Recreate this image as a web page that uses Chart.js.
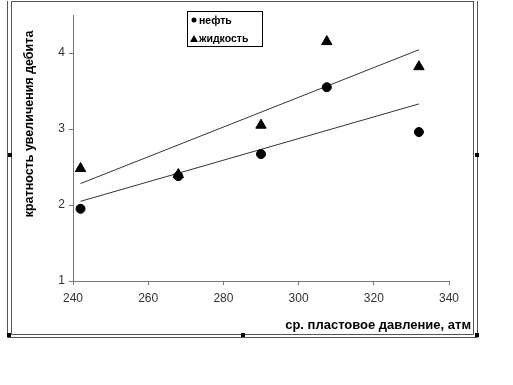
<!DOCTYPE html>
<html>
<head>
<meta charset="utf-8">
<script src="https://cdn.jsdelivr.net/npm/chart.js@4.4.1/dist/chart.umd.min.js"></script>
<style>
  html, body { margin: 0; padding: 0; background: #fff; }
  #wrap { width: 513px; height: 385px; }
</style>
</head>
<body>
<div id="wrap"><canvas id="c" width="513" height="385"></canvas></div>
<script>
// данные с графика
const pressure = [242, 268, 290, 307.5, 332];
const oilRatio = [1.95, 2.38, 2.67, 3.55, 2.96];
const liquidRatio = [2.48, 2.40, 3.05, 4.15, 3.82];
const xTicks = [240, 260, 280, 300, 320, 340];
const yTicks = [1, 2, 3, 4];
const seriesNames = ['нефть', 'жидкость'];
const xTitle = 'ср. пластовое давление, атм';
const yTitle = 'кратность увеличения дебита';

// линейный тренд (как в Excel)
function trend(xs, ys) {
    const n = xs.length;
    const mx = xs.reduce((a, b) => a + b, 0) / n;
    const my = ys.reduce((a, b) => a + b, 0) / n;
    let sxy = 0, sxx = 0;
    for (let i = 0; i < n; i++) {
        sxy += (xs[i] - mx) * (ys[i] - my);
        sxx += (xs[i] - mx) * (xs[i] - mx);
    }
    const k = sxy / sxx;
    const x0 = Math.min(...xs), x1 = Math.max(...xs);
    return [{ x: x0, y: my + k * (x0 - mx) }, { x: x1, y: my + k * (x1 - mx) }];
}

const pts = (xs, ys) => xs.map((x, i) => ({ x: x, y: ys[i] }));

// рамка, подписи осей и легенда
const decor = {
    id: 'decor',
    afterDraw(chart) {
        const ctx = chart.ctx;
        ctx.save();
        ctx.strokeStyle = '#555';
        ctx.lineWidth = 1;
        ctx.beginPath();
        ctx.moveTo(7.5, 1); ctx.lineTo(7.5, 337.5);
        ctx.moveTo(11.5, 1.5); ctx.lineTo(11.5, 334.5);
        ctx.moveTo(11.5, 1.5); ctx.lineTo(474.5, 1.5);
        ctx.moveTo(473.5, 1.5); ctx.lineTo(473.5, 334.5);
        ctx.moveTo(477.5, 1); ctx.lineTo(477.5, 337.5);
        ctx.moveTo(11.5, 334.5); ctx.lineTo(473.5, 334.5);
        ctx.moveTo(7.5, 337.5); ctx.lineTo(477.5, 337.5);
        ctx.stroke();
        ctx.fillStyle = '#000';
        [[9, 335], [243, 335], [477, 335], [10, 155], [477, 155]].forEach(p => {
            ctx.fillRect(p[0] - 2, p[1] - 2, 4, 4);
        });

        // подписи осей
        ctx.fillStyle = '#000';
        ctx.font = 'bold 13px "Liberation Sans", Arial, sans-serif';
        ctx.textAlign = 'right';
        ctx.textBaseline = 'middle';
        ctx.fillText(xTitle, 471, 325);
        ctx.save();
        ctx.translate(30, 124);
        ctx.rotate(-Math.PI / 2);
        ctx.textAlign = 'center';
        ctx.font = 'bold 12.5px "Liberation Sans", Arial, sans-serif';
        ctx.fillText(yTitle, 0, 0);
        ctx.restore();

        // легенда
        ctx.strokeStyle = '#000';
        ctx.strokeRect(187.5, 11.5, 75, 35);
        ctx.font = 'bold 10.5px "Liberation Sans", Arial, sans-serif';
        ctx.textAlign = 'left';
        ctx.fillText(seriesNames[0], 199, 21);
        ctx.fillText(seriesNames[1], 199, 39);
        ctx.beginPath();
        ctx.arc(194, 20, 2.5, 0, Math.PI * 2);
        ctx.fill();
        ctx.beginPath();
        ctx.moveTo(194, 35); ctx.lineTo(198, 42); ctx.lineTo(190, 42);
        ctx.closePath();
        ctx.fill();
        ctx.restore();
    }
};

new Chart(document.getElementById('c'), {
    type: 'scatter',
    data: {
        datasets: [
            {
                label: seriesNames[0],
                data: pts(pressure, oilRatio),
                pointStyle: 'circle',
                pointRadius: 4.5,
                backgroundColor: '#000',
                borderColor: '#000'
            },
            {
                label: seriesNames[1],
                data: pts(pressure, liquidRatio),
                pointStyle: 'triangle',
                pointRadius: 6,
                backgroundColor: '#000',
                borderColor: '#000'
            },
            {
                type: 'line',
                data: trend(pressure, oilRatio),
                borderColor: '#333',
                borderWidth: 1,
                pointRadius: 0,
                fill: false
            },
            {
                type: 'line',
                data: trend(pressure, liquidRatio),
                borderColor: '#333',
                borderWidth: 1,
                pointRadius: 0,
                fill: false
            }
        ]
    },
    options: {
        responsive: false,
        animation: false,
        layout: { padding: { left: 0, top: 15, right: 64, bottom: 74 } },
        plugins: { legend: { display: false }, tooltip: { enabled: false } },
        scales: {
            x: {
                type: 'linear',
                min: 240,
                max: 340,
                afterFit: s => { s.height = 30; },
                afterBuildTicks: s => { s.ticks = xTicks.map(v => ({ value: v })); },
                grid: { display: true, drawOnChartArea: false, tickLength: 4, color: '#777' },
                border: { color: '#777' },
                ticks: {
                    color: '#333',
                    padding: 6,
                    font: { family: '"Liberation Sans", Arial, sans-serif', size: 12 }
                }
            },
            y: {
                min: 1,
                max: 4.5,
                afterFit: s => { s.width = 73; },
                afterBuildTicks: s => { s.ticks = yTicks.map(v => ({ value: v })); },
                grid: { display: true, drawOnChartArea: false, tickLength: 4, color: '#777' },
                border: { color: '#777' },
                ticks: {
                    color: '#333',
                    padding: 4,
                    font: { family: '"Liberation Sans", Arial, sans-serif', size: 12 }
                }
            }
        }
    },
    plugins: [decor]
});
</script>
</body>
</html>
